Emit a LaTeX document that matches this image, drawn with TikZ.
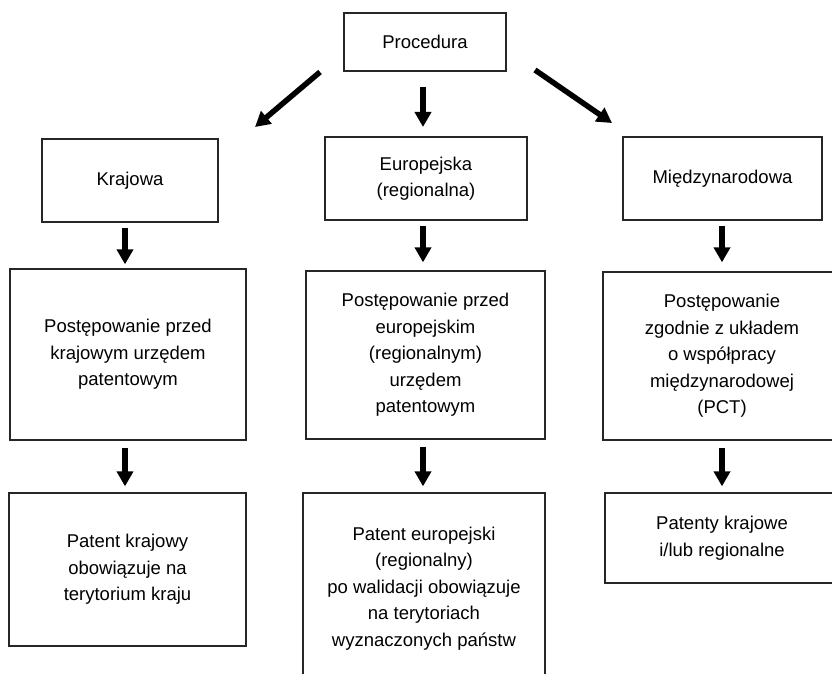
\documentclass[tikz,border=0pt]{standalone}
\usepackage{fontspec}
\setmainfont{Liberation Sans}
\usetikzlibrary{arrows.meta,calc}
\tikzset{
  box/.style={draw=black!85, line width=1.3pt, rectangle, align=center, inner sep=0pt,
    font=\fontsize{18.5}{26.5}\selectfont},
  bigarrow/.style={line width=5.5pt, -{Triangle[length=15pt,width=16pt]}, black}
}
\begin{document}
\begin{tikzpicture}[x=1pt,y=-1pt]
\useasboundingbox (0,0) rectangle (832,674);
\fill[white] (0,0) rectangle (832,674);
\clip (0,0) rectangle (832,674);
% row 1
\node[box, minimum width=162pt, minimum height=58pt] (proc) at (425,42) {Procedura};
% row 2
\node[box, minimum width=176pt, minimum height=83pt] (kraj) at (130,180.5) {Krajowa};
\node[box, minimum width=202pt, minimum height=83pt] (euro) at (426,178.5) {Europejska\\(regionalna)};
\node[box, minimum width=199pt, minimum height=83pt] (mied) at (722.5,178.5) {Międzynarodowa};
% row 3
\node[box, minimum width=236pt, minimum height=171pt] (kpost) at (128,354.5) {Postępowanie przed\\krajowym urzędem\\patentowym};
\node[box, minimum width=239pt, minimum height=168pt] (epost) at (425.5,355) {Postępowanie przed\\europejskim\\(regionalnym)\\urzędem\\patentowym};
\node[box, minimum width=238pt, minimum height=168pt] (mpost) at (722,356) {Postępowanie\\zgodnie z układem\\o współpracy\\międzynarodowej\\(PCT)};
% row 4
\node[box, minimum width=237pt, minimum height=153pt] (kpat) at (127.5,569.5) {Patent krajowy\\obowiązuje na\\terytorium kraju};
\node[box, minimum width=242pt, minimum height=187pt, text depth=0pt] (epat) at (424,586.5) {Patent europejski\\(regionalny)\\po walidacji obowiązuje\\na terytoriach\\wyznaczonych państw};
\node[box, minimum width=234pt, minimum height=90pt] (mpat) at (722,538) {Patenty krajowe\\i/lub regionalne};
% arrows from Procedura
\coordinate (l1) at (320,72);  \coordinate (l2) at (255,127);
\coordinate (m1) at (423,87);  \coordinate (m2) at (423,127);
\coordinate (r1) at (535,70);  \coordinate (r2) at (612,123);
\draw[bigarrow] (l1) -- (l2);
\draw[bigarrow] (m1) -- (m2);
\draw[bigarrow] (r1) -- (r2);
% vertical arrows
\draw[bigarrow] ($(kraj.south)+(-5,5)$) -- ($(kpost.north)+(-3,-4)$);
\draw[bigarrow] ($(euro.south)+(-3,5)$) -- ($(epost.north)+(-2.5,-8)$);
\draw[bigarrow] ($(mied.south)+(-0.5,5)$) -- ($(mpost.north)+(0,-9)$);
\draw[bigarrow] ($(kpost.south)+(-3,7)$) -- ($(kpat.north)+(-2.5,-6)$);
\draw[bigarrow] ($(epost.south)+(-2.5,7)$) -- ($(epat.north)+(-1,-6)$);
\draw[bigarrow] ($(mpost.south)+(0,7)$) -- ($(mpat.north)+(0,-6)$);
\end{tikzpicture}
\end{document}
